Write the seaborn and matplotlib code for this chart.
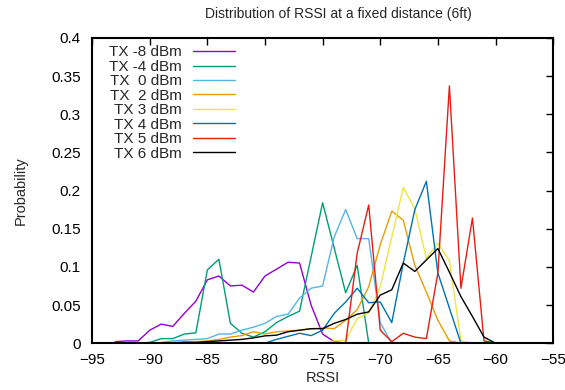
import numpy as np
import pandas as pd
import matplotlib
matplotlib.use('Agg')
import matplotlib.pyplot as plt
import seaborn as sns

nan = np.nan

# RSSI bins (dBm)
rssi = list(range(-93, -59))

# probability per tx power, one value per rssi bin (-93 .. -60)
tx_m8 = [0.002, 0.003, 0.003, 0.017, 0.025, 0.022, 0.039, 0.055, 0.083, 0.088,
         0.075, 0.076, 0.067, 0.088, 0.097, 0.106, 0.105, 0.050, 0.012, 0.002,
         0, 0, 0, 0, 0, 0, 0, 0, 0, 0, 0, 0, 0, 0]
tx_m4 = [nan, nan, 0.0, 0.001, 0.006, 0.006, 0.012, 0.0135, 0.096, 0.110,
         0.026, 0.013, 0.008, 0.015, 0.027, 0.035, 0.042, 0.113, 0.184, 0.125,
         0.066, 0.102, 0.0, 0, 0, 0, 0, 0, 0, 0, 0, 0, 0, 0]
tx_0 = [nan, nan, nan, nan, 0.001, 0.003, 0.004, 0.005, 0.006, 0.012,
        0.012, 0.017, 0.021, 0.026, 0.035, 0.038, 0.059, 0.072, 0.075, 0.139,
        0.175, 0.137, 0.137, 0.027, 0.0, 0, 0, 0, 0, 0, 0, 0, 0, 0]
tx_2 = [nan, nan, nan, nan, nan, 0.001, 0.002, 0.002, 0.003, 0.005,
        0.008, 0.010, 0.015, 0.012, 0.015, 0.016, 0.017, 0.019, 0.020, 0.019,
        0.030, 0.044, 0.074, 0.129, 0.173, 0.161, 0.102, 0.067, 0.030, 0.003,
        0.0, 0, 0, 0]
tx_3 = [nan, nan, nan, nan, nan, nan, nan, nan, nan, nan,
        nan, nan, nan, nan, nan, nan, nan, nan, 0.0, 0.003,
        0.004, 0.032, 0.040, 0.074, 0.139, 0.204, 0.176, 0.111, 0.131, 0.108,
        0.003, 0.0, 0, 0]
tx_4 = [nan, nan, nan, nan, nan, nan, nan, nan, nan, nan,
        nan, nan, nan, 0.0, 0.005, 0.009, 0.013, 0.010, 0.017, 0.039,
        0.054, 0.072, 0.053, 0.054, 0.027, 0.105, 0.175, 0.212, 0.092, 0.046,
        0.0, 0, 0, 0]
tx_5 = [nan, nan, nan, nan, nan, nan, nan, nan, nan, nan,
        nan, nan, nan, nan, nan, 0.0, 0, 0, 0, 0,
        0.0, 0.118, 0.181, 0.017, 0.002, 0.013, 0.008, 0.006, 0.092, 0.337,
        0.072, 0.164, 0.003, 0.0]
tx_6 = [nan, nan, nan, nan, nan, 0.0, 0.001, 0.001, 0.002, 0.003,
        0.004, 0.005, 0.007, 0.0096, 0.0105, 0.015, 0.017, 0.019, 0.019, 0.026,
        0.031, 0.038, 0.041, 0.063, 0.070, 0.105, 0.094, 0.109, 0.124, 0.093,
        0.061, 0.035, 0.008, 0.0]

labels = ['TX -8 dBm', 'TX -4 dBm', 'TX  0 dBm', 'TX  2 dBm',
          'TX 3 dBm', 'TX 4 dBm', 'TX 5 dBm', 'TX 6 dBm']
series = [tx_m8, tx_m4, tx_0, tx_2, tx_3, tx_4, tx_5, tx_6]
colors = ['#9400d3', '#009e73', '#56b4e9', '#e69f00',
          '#f0e442', '#0072b2', '#e51e10', '#000000']
yticklabels = ['0', '0.05', '0.1', '0.15', '0.2', '0.25', '0.3', '0.35', '0.4']

# long format for seaborn
frames = []
for lab, vals in zip(labels, series):
    frames.append(pd.DataFrame({'RSSI': rssi, 'Probability': vals, 'tx': lab}))
df = pd.concat(frames, ignore_index=True).dropna()

sns.set_style('white')
plt.rcParams['font.family'] = ['Liberation Sans', 'DejaVu Sans']
plt.rcParams['font.size'] = 11

fig, ax = plt.subplots(figsize=(5.65, 3.9), dpi=100)
fig.subplots_adjust(left=0.163, right=0.979, top=0.903, bottom=0.12)

sns.lineplot(data=df, x='RSSI', y='Probability', hue='tx', hue_order=labels,
             palette=colors, linewidth=1.0, ax=ax, estimator=None, sort=True)

ax.set_xlim(-95, -55)
ax.set_ylim(0, 0.4)
ax.set_xticks(np.arange(-95, -54, 5))
ax.set_yticks(np.arange(0, 0.401, 0.05))
ax.set_yticklabels(yticklabels)
ax.tick_params(direction='in', top=True, right=True, length=5, width=1,
               labelsize=11, colors='black')
ax.tick_params(axis='x', pad=7)
ax.tick_params(axis='y', pad=8)
for s in ax.spines.values():
    s.set_linewidth(1.5)
    s.set_color('black')

ax.set_title('Distribution of RSSI at a fixed distance (6ft)', fontsize=10,
             pad=14, x=0.534)
ax.set_xlabel('RSSI', fontsize=10.5, labelpad=3)
ax.set_ylabel('Probability', fontsize=10.5, labelpad=17)

ax.legend(loc='upper left', frameon=False, markerfirst=False, fontsize=11,
          handlelength=2.75, handletextpad=0.72, labelspacing=0.03,
          bbox_to_anchor=(0.02, 1.0), borderaxespad=0.1)

plt.savefig('out.png', dpi=100)
plt.close()
